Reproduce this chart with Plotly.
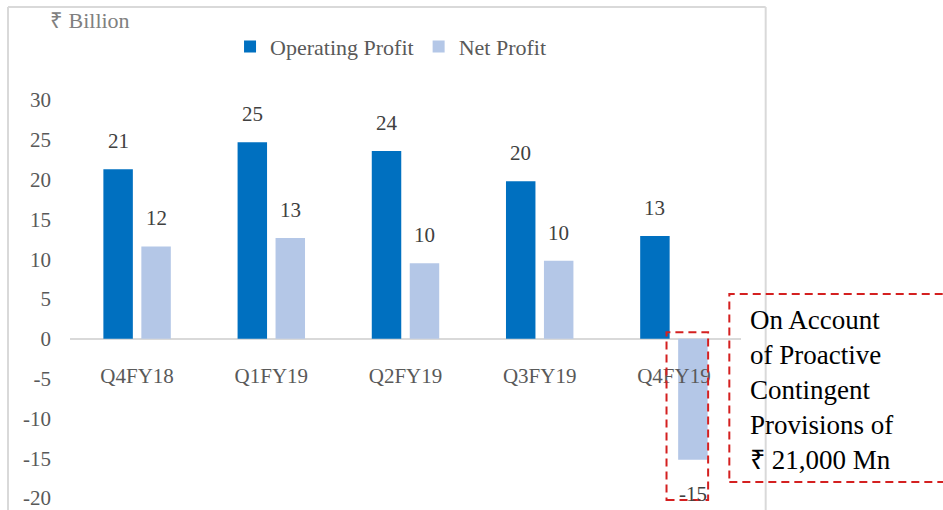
import plotly.graph_objects as go

categories = ["Q4FY18", "Q1FY19", "Q2FY19", "Q3FY19", "Q4FY19"]
operating_profit = [21.3, 24.7, 23.6, 19.8, 12.9]
net_profit = [11.6, 12.65, 9.5, 9.8, -15.2]
op_labels = ["21", "25", "24", "20", "13"]
net_labels = ["12", "13", "10", "10", "-15"]
y_ticks = [-20, -15, -10, -5, 0, 5, 10, 15, 20, 25, 30]
y_tick_text = ["-20", "-15", "-10", "-5", "0", "5", "10", "15", "20", "25", "30"]

FONT = "Liberation Serif, Times New Roman, serif"
OP_COLOR = "#0070C0"
NET_COLOR = "#B4C7E7"
RED = "#D42020"
BORDER = "#D9D9D9"

fig = go.Figure()
fig.add_trace(go.Bar(name="Operating Profit", x=categories, y=operating_profit,
                     marker=dict(color=OP_COLOR, line=dict(width=0))))
fig.add_trace(go.Bar(name="Net Profit", x=categories, y=net_profit,
                     marker=dict(color=NET_COLOR, line=dict(width=0))))

annotations = []
for c, v, t in zip(categories, operating_profit, op_labels):
    annotations.append(dict(x=c, y=v, text=t, showarrow=False, xshift=-19,
                            yanchor="bottom" if v >= 0 else "top",
                            yshift=14 if v >= 0 else -20,
                            font=dict(family=FONT, size=21, color="#404040")))
for c, v, t in zip(categories, net_profit, net_labels):
    annotations.append(dict(x=c, y=v, text=t, showarrow=False, xshift=19,
                            yanchor="bottom" if v >= 0 else "top",
                            yshift=14 if v >= 0 else -20,
                            font=dict(family=FONT, size=21, color="#404040")))

annotations.append(dict(xref="paper", yref="paper", x=-0.0328, y=1.1985,
                        xanchor="left", yanchor="middle", showarrow=False,
                        text="₹ Billion",
                        font=dict(family=FONT, size=22, color="#808080")))
annotations.append(dict(xref="paper", yref="paper", x=1.0105, y=0.272,
                        xanchor="left", yanchor="middle", align="left",
                        showarrow=False,
                        text="On Account<br>of Proactive<br>Contingent<br>Provisions of<br>₹ 21,000 Mn",
                        font=dict(family=FONT, size=27, color="#000000")))

shapes = [
    # chart border
    dict(type="line", xref="paper", yref="paper", x0=-0.0924, x1=-0.0924, y0=-0.1, y1=1.2337,
         line=dict(color=BORDER, width=2)),
    dict(type="line", xref="paper", yref="paper", x0=-0.0924, x1=1.0368, y0=1.2337, y1=1.2337,
         line=dict(color=BORDER, width=2)),
    dict(type="line", xref="paper", yref="paper", x0=1.0368, x1=1.0368, y0=-0.1, y1=1.2337,
         line=dict(color=BORDER, width=2)),
    # dashed callouts
    dict(type="rect", xref="paper", yref="paper", x0=0.889, x1=0.951, y0=-0.005, y1=0.4163,
         line=dict(color=RED, width=2, dash="8px,5px")),
    dict(type="rect", xref="paper", yref="paper", x0=0.9826, x1=1.3115, y0=0.0402, y1=0.5126,
         line=dict(color=RED, width=2, dash="8px,5px")),
]

fig.update_layout(
    width=943, height=510,
    margin=dict(l=70, r=202, t=100, b=12, autoexpand=False),
    paper_bgcolor="white", plot_bgcolor="white",
    barmode="group", bargap=0.434, bargroupgap=0.224,
    font=dict(family=FONT, size=21, color="#595959"),
    showlegend=True,
    legend=dict(orientation="h", xref="paper", yref="paper", x=0.2385, y=1.134,
                xanchor="left", yanchor="middle",
                font=dict(family=FONT, size=22, color="#595959"),
                bgcolor="rgba(0,0,0,0)"),
    xaxis=dict(type="category", anchor="free", position=0.4, showline=False,
               showgrid=False, zeroline=False, ticks="", ticklabelstandoff=22,
               automargin=False,
               tickfont=dict(family=FONT, size=21, color="#595959")),
    yaxis=dict(range=[-20, 30], tickvals=y_ticks, ticktext=y_tick_text,
               showgrid=False, showline=False, ticklabeloverflow="allow",
               automargin=False,
               zeroline=True, zerolinecolor=BORDER, zerolinewidth=2, ticks="",
               ticklabelstandoff=18,
               tickfont=dict(family=FONT, size=21, color="#595959")),
    annotations=annotations,
    shapes=shapes,
)

fig.write_html("out.html", config={"displayModeBar": False},
               post_script="document.body.style.margin='0';document.body.style.padding='0';")
